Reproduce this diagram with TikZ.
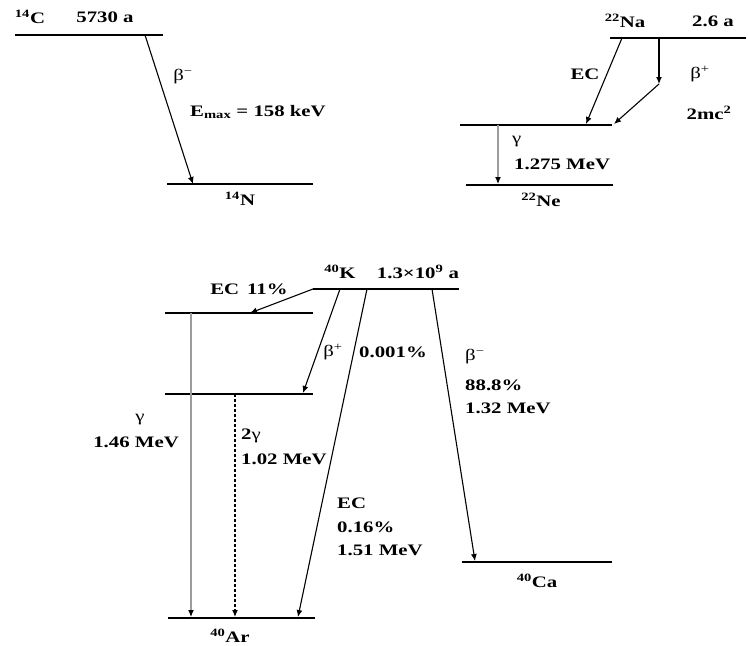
\documentclass[tikz,border=0pt]{standalone}
\usepackage{fontspec}
\setmainfont[FakeStretch=1.3]{Liberation Serif}
\usetikzlibrary{arrows.meta,positioning,calc}
\definecolor{GammaGray}{HTML}{9C9C9C}

\begin{document}
\begin{tikzpicture}[
    x=1pt, y=-1pt,
    level/.style={
      line width=1.8pt
    },
    decay/.style={
      -{Latex[length=7pt,width=6pt]},
      line width=1.1pt
    },
    gammaarr/.style={
      -{Latex[length=7pt,width=6pt,color=black]},
      line width=1.1pt,
      draw=GammaGray
    },
    lbl/.style={
      font=\bfseries\fontsize{16}{18}\selectfont,
      inner sep=0pt
    },
    lblw/.style={
      lbl,
      anchor=west
    }
  ]
  \useasboundingbox (0,0) rectangle (748,646);

  % 14C -> 14N
  \coordinate (cl) at (15,35);   \coordinate (cr) at (163,35);
  \coordinate (nl) at (167,184); \coordinate (nr) at (313,184);
  \coordinate (cbeta) at (145,35); \coordinate (nbeta) at (193,184);

  \node[lbl] (cname) at (30,17)  {\textsuperscript{14}C};
  \node[lbl] (chalf) at (105,17) {5730 a};
  \node[lbl] (cb)    at (183,77) {\mdseries β\textsuperscript{−}};
  \node[lbl] (cemax) at (258,112) {E\textsubscript{max} = 158 keV};
  \node[lbl] (nname) at (240,199) {\textsuperscript{14}N};

  % 22Na -> 22Ne
  \coordinate (nal) at (610,38); \coordinate (nar) at (746,38);
  \coordinate (nel) at (460,125); \coordinate (ner) at (612,125);
  \coordinate (ngl) at (466,185); \coordinate (ngr) at (613,185);
  \coordinate (naec) at (622,38); \coordinate (neec) at (586,124);
  \coordinate (nabp) at (659,38); \coordinate (nbend) at (659,84);
  \coordinate (nebp) at (614,124);
  \coordinate (negt) at (498,125); \coordinate (negb) at (498,184);

  \node[lbl] (naname) at (625,21) {\textsuperscript{22}Na};
  \node[lbl] (nahalf) at (713,21) {2.6 a};
  \node[lbl] (naec1)  at (585,74) {EC};
  \node[lbl] (nabp1)  at (700,74) {\mdseries β\textsuperscript{+}};
  \node[lbl] (namc)   at (709,113) {2mc\textsuperscript{2}};
  \node[lblw] (neg)   at (512,142) {\mdseries γ};
  \node[lblw] (nege)  at (514,164) {1.275 MeV};
  \node[lbl] (nename) at (541,200) {\textsuperscript{22}Ne};

  % 40K -> 40Ar, 40Ca
  \coordinate (kl) at (313,289);  \coordinate (kr) at (459,289);
  \coordinate (e1l) at (165,313); \coordinate (e1r) at (313,313);
  \coordinate (e2l) at (165,394); \coordinate (e2r) at (313,394);
  \coordinate (arl) at (168,618); \coordinate (arr) at (315,618);
  \coordinate (cal) at (462,562); \coordinate (car) at (612,562);
  \coordinate (kec) at (313,289);  \coordinate (e1ec) at (250,313);
  \coordinate (kbp) at (340,289);  \coordinate (e2bp) at (303,393);
  \coordinate (kec2) at (367,289); \coordinate (arec) at (298,617);
  \coordinate (kbm) at (432,289);  \coordinate (cabm) at (475,561);
  \coordinate (e1g) at (191,313);  \coordinate (arg) at (191,617);
  \coordinate (e2g) at (235,394);  \coordinate (arg2) at (235,617);

  \node[lbl] (kname) at (340,272) {\textsuperscript{40}K};
  \node[lbl] (khalf) at (418,272) {1.3×10\textsuperscript{9} a};
  \node[lbl] (kec11) at (249,289) {EC\enspace 11\%};
  \node[lbl] (kbp1)  at (333,352) {\mdseries β\textsuperscript{+}};
  \node[lbl] (kbp2)  at (393,352) {0.001\%};
  \node[lbl] (e1gam) at (140,420) {\mdseries γ};
  \node[lbl, anchor=east] (e1en) at (179,442) {1.46 MeV};
  \node[lblw] (e2gam) at (241,436) {2\mdseries γ};
  \node[lblw] (e2en)  at (241,459) {1.02 MeV};
  \node[lblw] (kec3)  at (337,503) {EC};
  \node[lblw] (kec4)  at (337,527) {0.16\%};
  \node[lblw] (kec5)  at (337,550) {1.51 MeV};
  \node[lblw] (kbm1)  at (465,357) {\mdseries β\textsuperscript{−}};
  \node[lblw] (kbm2)  at (465,385) {88.8\%};
  \node[lblw] (kbm3)  at (465,408) {1.32 MeV};
  \node[lbl] (arname) at (230,636) {\textsuperscript{40}Ar};
  \node[lbl] (caname) at (537,581) {\textsuperscript{40}Ca};

  \foreach \a/\b in {cl/cr, nl/nr, nal/nar, nel/ner, ngl/ngr,
                     kl/kr, e1l/e1r, e2l/e2r, arl/arr, cal/car}
    \draw[level] (\a) -- (\b);

  \foreach \a/\b in {cbeta/nbeta, naec/neec, nabp/nbend, nbend/nebp,
                     kec/e1ec, kbp/e2bp, kec2/arec, kbm/cabm}
    \draw[decay] (\a) -- (\b);

  \draw[gammaarr] (negt) -- (negb);
  \draw[gammaarr] (e1g) -- (arg);
  \draw[decay, dash pattern=on 3pt off 2pt] (e2g) -- (arg2);

\end{tikzpicture}
\end{document}
